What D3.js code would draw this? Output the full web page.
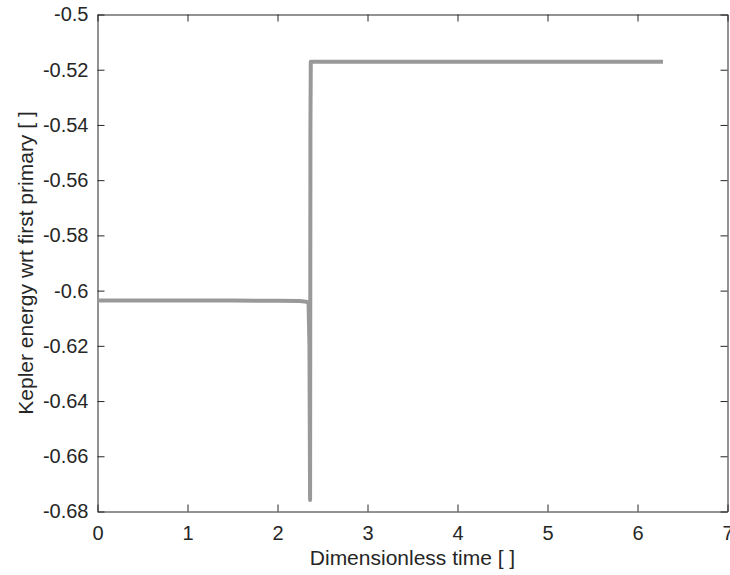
<!DOCTYPE html>
<html>
<head>
<meta charset="utf-8">
<script src="https://cdn.jsdelivr.net/npm/d3@7"></script>
<style>
  body { margin: 0; background: #fff; }
  text { font-family: "Liberation Sans", Arial, Helvetica, sans-serif; fill: #262626; }
</style>
</head>
<body>
<script>
// Kepler energy vs dimensionless time
var timeValues   = [0, 0.5, 1.0, 1.5, 2.0, 2.25, 2.32, 2.345, 2.355, 2.362, 2.366, 2.37, 3.0, 4.0, 5.0, 6.0, 6.283];
var energyValues = [-0.6036, -0.6036, -0.6036, -0.6036, -0.6037, -0.6038, -0.604, -0.6045, -0.620, -0.6758, -0.540, -0.5171, -0.5171, -0.5171, -0.5171, -0.5171, -0.5171];
var xTicks = [0, 1, 2, 3, 4, 5, 6, 7];
var yTicks = [-0.5, -0.52, -0.54, -0.56, -0.58, -0.6, -0.62, -0.64, -0.66, -0.68];

var svgWidth = 730, svgHeight = 575;
var margin = { top: 14.5, right: 2.5, bottom: 63.5, left: 97.5 };
var width = svgWidth - margin.left - margin.right;
var height = svgHeight - margin.top - margin.bottom;

var svg = d3.select("body").append("svg").attr("width", svgWidth).attr("height", svgHeight);
var chartGroup = svg.append("g").attr("transform", `translate(${margin.left}, ${margin.top})`);

var data = timeValues.map((t, i) => ({ t: t, e: energyValues[i] }));

var xScale = d3.scaleLinear().domain([0, 7]).range([0, width]);
var yScale = d3.scaleLinear().domain([-0.68, -0.5]).range([height, 0]);

var fmt = d => String(+d.toFixed(2));
var tickLen = 7;

// bottom / left axes with labels, ticks inward
var bottomAxis = d3.axisBottom(xScale).tickValues(xTicks).tickFormat(fmt).tickSizeInner(-tickLen).tickSizeOuter(0).tickPadding(14);
var leftAxis = d3.axisLeft(yScale).tickValues(yTicks).tickFormat(fmt).tickSizeInner(-tickLen).tickSizeOuter(0).tickPadding(9);
var topAxis = d3.axisTop(xScale).tickValues(xTicks).tickFormat("").tickSizeInner(-tickLen).tickSizeOuter(0);
var rightAxis = d3.axisRight(yScale).tickValues(yTicks).tickFormat("").tickSizeInner(-tickLen).tickSizeOuter(0);

var gx = chartGroup.append("g").attr("transform", `translate(0, ${height})`).call(bottomAxis);
var gy = chartGroup.append("g").call(leftAxis);
var gt = chartGroup.append("g").call(topAxis);
var gr = chartGroup.append("g").attr("transform", `translate(${width}, 0)`).call(rightAxis);

[gx, gy, gt, gr].forEach(function(g) {
  g.selectAll("path.domain").attr("stroke", "#262626").attr("stroke-width", 1);
  g.selectAll(".tick line").attr("stroke", "#262626").attr("stroke-width", 1);
  g.selectAll(".tick text").attr("fill", "#262626").style("font-size", "20px")
    .style("font-family", '"Liberation Sans", Arial, sans-serif');
});
gx.selectAll(".tick text").attr("dy", "0.71em");

// the line
var line = d3.line().x(d => xScale(d.t)).y(d => yScale(d.e));
chartGroup.append("path")
  .datum(data)
  .attr("d", line)
  .attr("fill", "none")
  .attr("stroke", "#999999")
  .attr("stroke-width", 4)
  .attr("stroke-linejoin", "round");

// axis labels
chartGroup.append("text")
  .attr("x", width / 2)
  .attr("y", height + 53)
  .attr("text-anchor", "middle")
  .style("font-size", "21px")
  .text("Dimensionless time [ ]");

chartGroup.append("text")
  .attr("transform", "rotate(-90)")
  .attr("x", -height / 2)
  .attr("y", -margin.left + 33)
  .attr("text-anchor", "middle")
  .style("font-size", "21px")
  .text("Kepler energy wrt first primary [ ]");
</script>
</body>
</html>
